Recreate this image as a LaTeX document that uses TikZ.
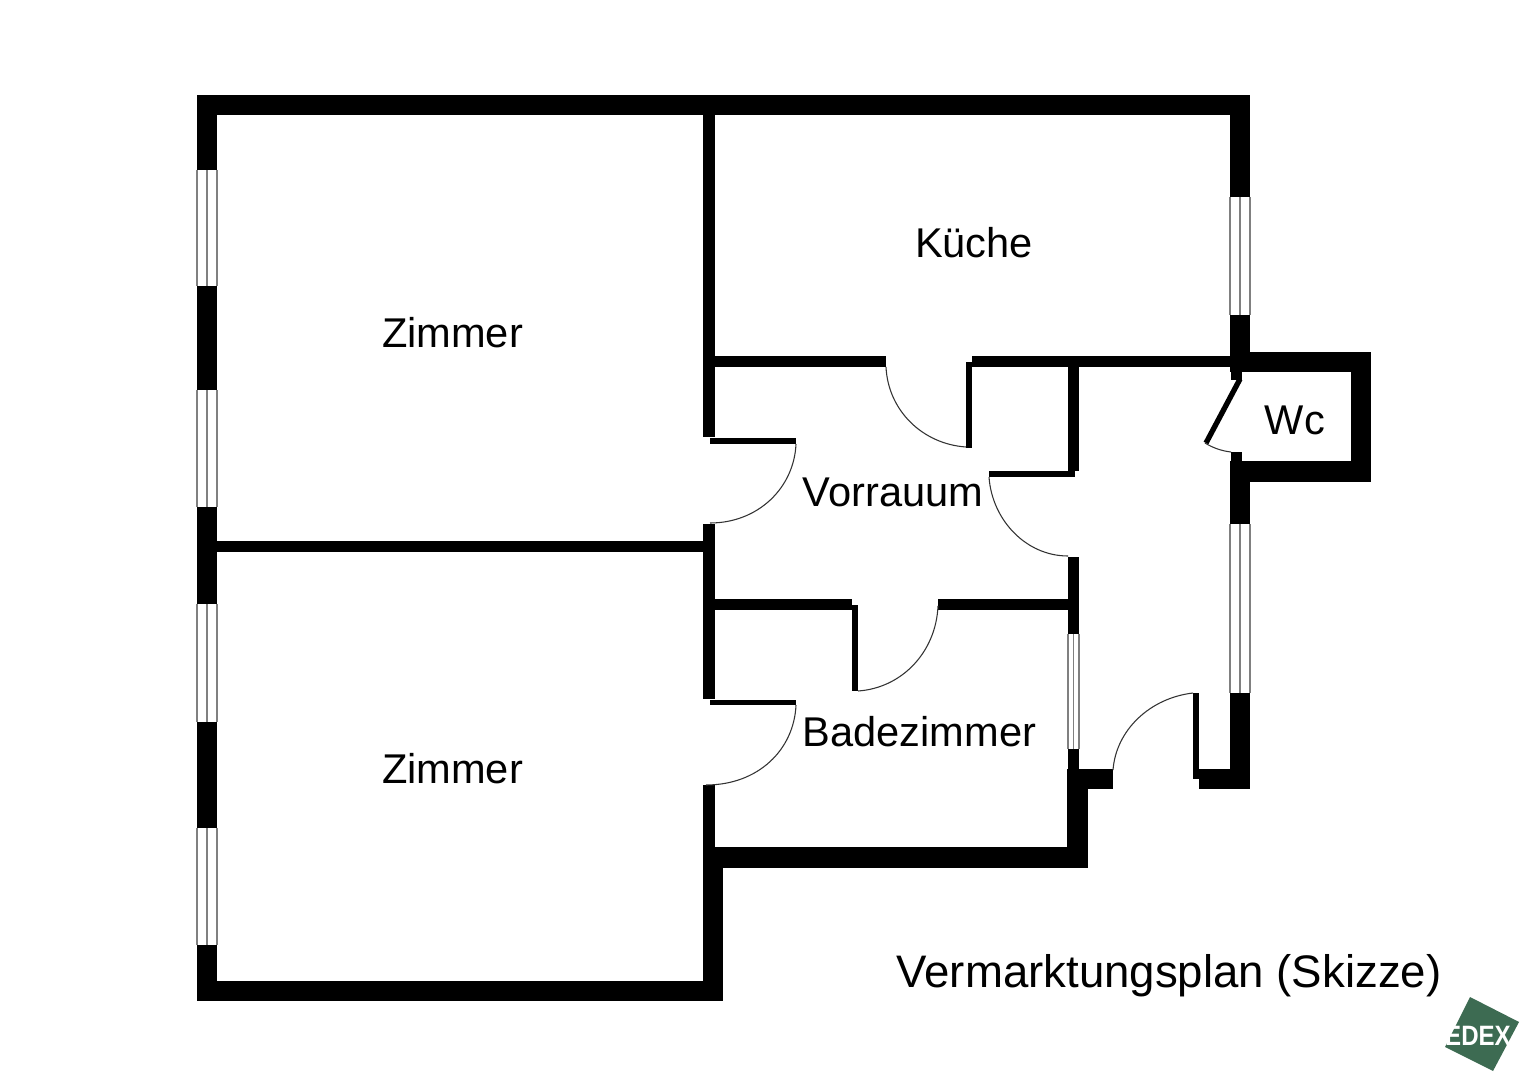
\documentclass[tikz,border=0pt]{standalone}
\usepackage{fontspec}
\setmainfont{Liberation Sans}
\definecolor{logogreen}{HTML}{3D6B52}
\tikzset{
  wall/.style={fill=black,draw=none},
  pane/.style={draw=black!50,line width=0.8pt},
  swing/.style={draw=black!80,line width=0.8pt},
  room/.style={inner sep=0pt,font=\fontsize{31.2}{31.2}\selectfont,text=black},
}
\begin{document}
\begin{tikzpicture}[x=0.75pt,y=-0.75pt]
\useasboundingbox (0,0) rectangle (1527,1080);
\fill[white] (0,0) rectangle (1527,1080);
% windows
\foreach \xa/\xb/\ya/\yb in {197/217/170/286,197/217/390/507,197/217/604/722,197/217/828/945,1230/1250/197/315,1230/1250/524/693,1068/1079/634/749}{
  \draw[pane] (\xa,\ya) -- (\xa,\yb);
  \draw[pane] ({(\xa+\xb)/2},\ya) -- ({(\xa+\xb)/2},\yb);
  \draw[pane] (\xb,\ya) -- (\xb,\yb);
}
% outer walls
\fill[wall] (197,95) rectangle (1250,115);
\foreach \ya/\yb in {95/170,286/390,507/604,722/828,945/1001}{\fill[wall] (197,\ya) rectangle (217,\yb);}
\fill[wall] (197,981) rectangle (723,1001);
\fill[wall] (703,847) rectangle (723,1001);
\fill[wall] (703,847) rectangle (1088,868);
\fill[wall] (1067,769) rectangle (1088,868);
\fill[wall] (1067,769) rectangle (1113,789);
\fill[wall] (1199,769) rectangle (1250,789);
\foreach \ya/\yb in {95/197,315/372,461/524,693/789}{\fill[wall] (1230,\ya) rectangle (1250,\yb);}
% WC
\fill[wall] (1230,352) rectangle (1371,372);
\fill[wall] (1351,352) rectangle (1371,482);
\fill[wall] (1230,461) rectangle (1371,482);
\fill[wall] (1231,367) rectangle (1242,380);
\fill[wall] (1231,452) rectangle (1242,461);
\draw[line width=4pt] (1240,379) -- (1206,443);
\draw[swing] (1205,443) .. controls (1213,448) and (1222,451) .. (1231,452);
% inner walls
\fill[wall] (703,115) rectangle (715,437);
\fill[wall] (703,524) rectangle (715,699);
\fill[wall] (703,785) rectangle (715,847);
\fill[wall] (217,541) rectangle (703,552);
\fill[wall] (715,356) rectangle (886,367);
\fill[wall] (972,356) rectangle (1231,367);
\fill[wall] (966,362) rectangle (972,448);
\fill[wall] (1068,367) rectangle (1079,471);
\fill[wall] (989,471) rectangle (1075,477);
\fill[wall] (1068,557) rectangle (1079,634);
\fill[wall] (1068,749) rectangle (1079,769);
\fill[wall] (715,599) rectangle (852,610);
\fill[wall] (938,599) rectangle (1068,610);
\fill[wall] (852,605) rectangle (858,691);
\fill[wall] (710,438) rectangle (796,444);
\fill[wall] (710,700) rectangle (796,705);
\fill[wall] (1193,693) rectangle (1199,779);
% door swings
\draw[swing] (886,367) .. controls (888,410) and (922,444) .. (966,447);
\draw[swing] (796,444) .. controls (794,488) and (758,523) .. (710,523);
\draw[swing] (989,477) .. controls (992,520) and (1026,556) .. (1068,556);
\draw[swing] (938,606) .. controls (936,652) and (902,688) .. (858,691);
\draw[swing] (796,705) .. controls (794,750) and (758,785) .. (706,785);
\draw[swing] (1193,693) .. controls (1150,698) and (1116,730) .. (1113,770);
% labels
\node[room] (z1) at (452.5,333) {Zimmer};
\node[room] (z2) at (452.5,769) {Zimmer};
\node[room] (k) at (974,243) {Küche};
\node[room] (v) at (893,492) {Vorrauum};
\node[room] (b) at (919.5,732) {Badezimmer};
\node[room] (w) at (1295,420) {Wc};
\node[inner sep=0pt,font=\fontsize{34.2}{34.2}\selectfont] (t) at (1169,976) {Vermarktungsplan (Skizze)};
% logo
\fill[logogreen] (1470,997) -- (1519,1022) -- (1493,1071) -- (1445,1047) -- cycle;
\node[inner sep=0pt,text=white,font=\bfseries\fontsize{21}{21}\selectfont,xscale=0.86] (logo) at (1478,1036) {EDEX};
\end{tikzpicture}
\end{document}
